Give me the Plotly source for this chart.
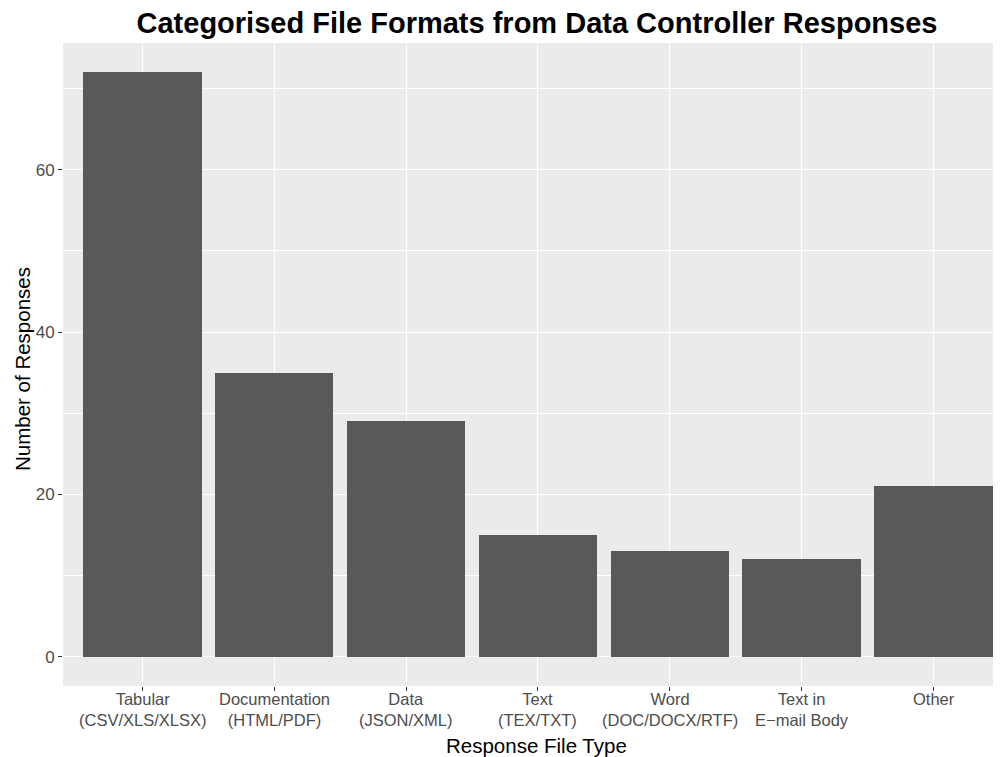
import plotly.graph_objects as go

categories = ["Tabular\n(CSV/XLS/XLSX)", "Documentation\n(HTML/PDF)", "Data\n(JSON/XML)",
              "Text\n(TEX/TXT)", "Word\n(DOC/DOCX/RTF)", "Text in\nE\u2212mail Body", "Other"]
counts = [72, 35, 29, 15, 13, 12, 21]
y_ticks = [0, 20, 40, 60]

OFF = 8  # page body margin
W, H = 1001 - OFF, 757 - OFF
L, R, T, B = 63 - OFF, 1001 - OFF, 43 - OFF, 686 - OFF

fig = go.Figure()
xs = list(range(len(categories)))
fig.add_trace(go.Bar(x=xs, y=counts, width=0.9,
                     marker=dict(color="#595959", line=dict(width=0)), hoverinfo="skip"))

fig.update_layout(
    width=W, height=H,
    margin=dict(l=L, r=W - R, t=T, b=H - B, autoexpand=False),
    paper_bgcolor="white", plot_bgcolor="#EBEBEB",
    font=dict(family="Liberation Sans, Arial, sans-serif", color="#4D4D4D"),
    showlegend=False,
    title=dict(text="<b>Categorised File Formats from Data Controller Responses</b>",
               font=dict(size=29, color="black"), x=(537 - OFF) / W, xanchor="center",
               y=1 - (22.5 - OFF) / H, yanchor="middle"),
    bargap=0,
)
fig.update_xaxes(
    range=[-0.6, 6.51], tickmode="array", tickvals=xs, ticktext=[""] * len(xs),
    showgrid=True, gridcolor="white", gridwidth=1.1, automargin=False,
    ticks="outside", ticklen=4, tickcolor="#333333", tickwidth=1,
    zeroline=False, showline=False,
)
fig.update_yaxes(
    range=[-3.6, 75.6], tickmode="array", tickvals=y_ticks,
    showgrid=True, gridcolor="white", gridwidth=1.1, automargin=False,
    minor=dict(tickmode="array", tickvals=[10, 30, 50, 70], showgrid=True,
               gridcolor="white", gridwidth=0.5, ticks=""),
    ticks="outside", ticklen=4, tickcolor="#333333", tickwidth=1,
    tickfont=dict(size=17, color="#4D4D4D"), zeroline=False, showline=False,
)

def py(pix):
    return (B - (pix - OFF)) / (B - T)

def px(pix):
    return ((pix - OFF) - L) / (R - L)

for i, cat in enumerate(categories):
    fig.add_annotation(text=cat.replace("\n", "<br>"), xref="x", yref="paper", x=i, y=py(688.5),
                       xanchor="center", yanchor="top", showarrow=False, borderpad=0,
                       font=dict(size=16.5, color="#4D4D4D"))

fig.add_annotation(text="Response File Type", xref="paper", yref="paper",
                   x=px(536), y=py(745.5),
                   xanchor="center", yanchor="middle", showarrow=False,
                   font=dict(size=20.5, color="black"))
fig.add_annotation(text="Number of Responses", xref="paper", yref="paper",
                   x=px(22), y=py(369), textangle=-90,
                   xanchor="center", yanchor="middle", showarrow=False,
                   font=dict(size=20.5, color="black"))

fig.write_html("out.html")
